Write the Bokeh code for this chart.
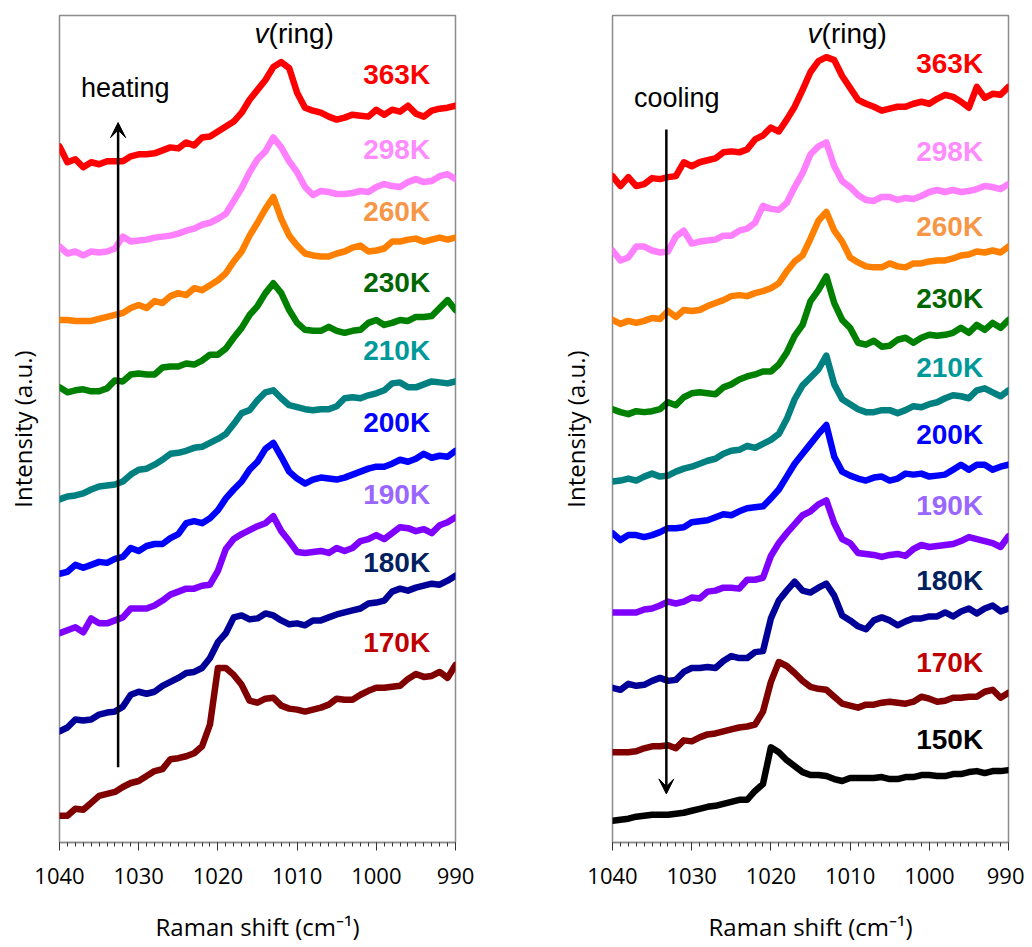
from bokeh.plotting import figure
from bokeh.layouts import row
from bokeh.models import Range1d, SingleIntervalTicker, FixedTicker, Arrow, VeeHead
from bokeh.core.properties import value
from bokeh.embed import file_html
from bokeh.resources import INLINE

# Raman shift grid (cm^-1)
shift = [1040, 1039, 1038, 1037, 1036, 1035, 1034, 1033, 1032, 1031,
         1030, 1029, 1028, 1027, 1026, 1025, 1024, 1023, 1022, 1021,
         1020, 1019, 1018, 1017, 1016, 1015, 1014, 1013, 1012, 1011,
         1010, 1009, 1008, 1007, 1006, 1005, 1004, 1003, 1002, 1001,
         1000, 999, 998, 997, 996, 995, 994, 993, 992, 991, 990]

# ---------------- heating (offset intensities, a.u.) ----------------
heat_labels = ["363K", "298K", "260K", "230K", "210K", "200K", "190K", "180K", "170K"]
heat_363 = [703,687,690,682,687,685,688,688,688,693,695,695,696,699,702,701,707,704,712,713,718,723,728,737,750,760,770,783,788,782,757,742,739,737,733,730,732,735,734,733,740,735,740,738,744,736,733,739,741,742,744]
heat_298 = [602,595,597,593,597,596,597,600,612,607,608,609,611,612,613,615,618,620,624,626,630,635,648,661,677,690,698,712,702,688,677,662,654,658,657,655,655,656,658,657,662,665,663,662,667,670,667,668,673,675,670]
heat_260 = [528,528,527,527,527,529,531,533,535,540,543,540,547,545,552,555,553,560,558,563,568,575,587,597,613,626,640,652,630,613,603,595,593,592,592,595,597,601,603,597,598,600,607,607,609,610,607,609,611,609,611]
heat_230 = [460,455,457,458,456,456,459,467,466,473,474,473,473,480,481,481,484,483,487,493,493,499,510,520,533,542,555,565,555,538,525,518,517,517,521,517,515,517,518,525,528,523,525,528,527,531,531,532,540,548,538]
heat_210 = [347,350,351,353,357,360,361,362,365,372,377,378,382,387,393,394,396,399,400,404,408,413,423,434,437,447,455,457,449,442,440,438,437,438,438,441,449,450,449,452,454,457,464,465,460,460,463,466,465,464,466]
heat_200 = [272,274,281,278,281,284,283,287,289,298,295,300,302,302,308,312,323,325,323,328,336,348,357,365,377,385,398,404,390,375,368,363,367,369,368,367,369,372,375,378,380,380,383,387,385,388,393,389,391,390,396]
heat_190 = [212,215,218,213,227,222,222,225,228,237,237,237,240,245,251,254,257,257,260,261,275,297,307,312,316,320,323,330,315,305,294,293,294,295,293,298,295,298,305,307,311,307,313,319,318,315,317,313,321,324,329]
heat_180 = [113,117,125,124,125,130,132,133,138,150,153,151,153,159,163,167,172,173,177,187,203,212,228,230,226,227,232,230,225,221,222,220,225,225,228,231,233,235,237,242,243,245,254,257,255,258,260,262,261,265,270]
heat_170 = [28,28,35,34,41,48,50,52,57,61,63,68,73,75,85,86,88,91,98,120,177,177,170,160,144,142,146,147,139,136,135,133,135,137,140,146,145,145,150,154,157,157,158,159,166,171,168,169,173,167,180]
heat_label_y = [775, 700, 637, 566, 497, 425, 352, 283, 203]

# ---------------- cooling ----------------
cool_labels = ["363K", "298K", "260K", "230K", "210K", "200K", "190K", "180K", "170K", "150K"]
cool_363 = [673,663,672,663,665,671,670,672,673,687,683,687,689,691,697,698,697,700,710,714,722,718,730,743,760,778,789,793,790,774,762,750,746,743,739,741,743,743,746,748,746,751,755,753,748,742,763,752,756,755,763]
cool_298 = [598,588,591,602,602,598,596,597,612,618,605,607,608,609,613,613,618,620,626,643,640,639,646,662,676,695,703,707,683,668,662,654,649,648,652,652,649,651,650,653,657,659,657,659,657,658,660,663,662,660,665]
cool_260 = [528,524,527,525,527,530,529,537,531,538,537,538,542,545,548,552,553,552,555,557,560,565,577,587,593,610,628,637,618,607,591,586,582,581,581,585,582,581,585,585,587,588,588,590,593,594,597,596,598,596,602]
cool_230 = [438,435,433,436,435,436,438,445,442,450,454,455,454,453,460,463,468,471,473,476,476,483,495,512,523,547,558,572,545,528,520,505,503,507,501,502,508,510,505,510,513,512,513,515,520,515,523,518,525,520,528]
cool_210 = [365,366,368,366,370,373,370,371,375,378,380,383,386,388,393,396,397,401,399,403,407,413,428,448,462,470,478,492,463,448,443,438,435,435,437,437,434,437,441,440,443,445,449,452,451,449,457,459,455,451,457]
cool_200 = [313,306,311,311,309,311,314,318,318,319,324,325,326,329,332,331,335,338,339,340,348,357,370,383,393,403,413,422,390,375,371,368,366,369,370,366,368,373,372,373,370,371,372,377,382,377,382,382,377,380,382]
cool_190 = [233,233,233,233,236,237,240,244,242,244,248,247,254,255,258,258,257,266,266,268,290,303,313,322,331,335,342,346,323,307,303,293,292,291,289,291,292,290,297,301,299,300,301,302,305,309,307,305,303,299,310]
cool_180 = [157,155,161,159,160,164,167,164,165,173,177,177,178,177,184,189,187,187,193,194,227,245,255,264,255,253,258,262,250,230,225,219,216,225,228,225,220,224,227,227,229,229,233,229,234,237,232,237,240,234,237]
cool_170 = [92,92,92,93,96,98,98,99,96,104,103,107,110,111,113,115,117,118,120,133,163,183,179,172,164,158,156,155,148,141,139,137,140,140,142,143,142,141,143,148,146,143,144,147,147,148,148,153,155,147,152]
cool_150 = [23,24,25,27,28,29,29,29,30,31,33,35,37,38,40,42,44,44,53,60,97,92,84,78,72,69,69,68,65,63,66,66,66,66,67,65,65,67,67,69,69,68,68,70,70,72,73,71,73,73,74]
cool_label_y = [787, 698, 622, 550, 480, 412, 341, 265, 183, 105]

# colours
line_colors = {"363K": "#FF0000", "298K": "#FF80FF", "260K": "#FF8000", "230K": "#008000",
               "210K": "#008080", "200K": "#0000FF", "190K": "#8000FF", "180K": "#000099",
               "170K": "#800000", "150K": "#000000"}
label_colors = {"363K": "#FF0000", "298K": "#FF8CFF", "260K": "#F79646", "230K": "#006600",
                "210K": "#009999", "200K": "#0000FF", "190K": "#9966FF", "180K": "#002060",
                "170K": "#C00000", "150K": "#000000"}

label_x = 993.2
ring_x = 1013.6
ring_y = 817
arrow_x = [1032.6, 1033.2]
heat_arrow = [77, 727]
cool_arrow = [720, 50]
note_x = 1037.3
note_y = [762, 752]

TICK_FONT = "Open Sans"
ANN_FONT = "Liberation Sans"


def make_fig(series, labels, label_y, width, bl, br, note, arrow_xv, arrow_y):
    p = figure(width=width, height=945, output_backend="svg", toolbar_location=None,
               x_range=Range1d(1040, 990), y_range=Range1d(1, 835),
               min_border_left=bl, min_border_right=br, min_border_top=15, min_border_bottom=96)
    p.xgrid.visible = False
    p.ygrid.visible = False
    p.outline_line_color = "#8c8c8c"
    p.outline_line_width = 1.5
    p.background_fill_color = "white"
    p.border_fill_color = "white"

    xa = p.xaxis[0]
    xa.ticker = SingleIntervalTicker(interval=10, num_minor_ticks=10)
    xa.major_tick_out = 8
    xa.major_tick_in = 0
    xa.minor_tick_out = 4
    xa.minor_tick_in = 0
    xa.axis_line_color = "#8c8c8c"
    xa.axis_line_width = 1.5
    xa.major_tick_line_color = "#333333"
    xa.minor_tick_line_color = "#333333"
    xa.major_label_text_font = TICK_FONT
    xa.major_label_text_font_size = "22px"
    xa.major_label_text_color = "black"
    xa.major_label_standoff = 17
    xa.axis_label = "Raman shift (cm\u207b\u00b9)"
    xa.axis_label_text_font = TICK_FONT
    xa.axis_label_text_font_size = "24px"
    xa.axis_label_text_font_style = "normal"
    xa.axis_label_text_color = "black"
    xa.axis_label_standoff = 23

    ya = p.yaxis[0]
    ya.ticker = FixedTicker(ticks=[])
    ya.major_tick_line_color = None
    ya.minor_tick_line_color = None
    ya.axis_line_color = None
    ya.axis_label = "Intensity (a.u.)"
    ya.axis_label_text_font = TICK_FONT
    ya.axis_label_text_font_size = "24px"
    ya.axis_label_text_font_style = "normal"
    ya.axis_label_text_color = "black"
    ya.axis_label_standoff = 21

    for lab, ys in zip(labels, series):
        p.line(shift, ys, line_color=line_colors[lab], line_width=6.5,
               line_join="round", line_cap="round")

    p.text(x=[label_x] * len(labels), y=label_y, text=labels,
           text_color=[label_colors[l] for l in labels],
           text_align="right", text_baseline="middle",
           text_font=value(ANN_FONT), text_font_style="bold", text_font_size="28px")

    p.text(x=[ring_x], y=[ring_y], text=["v"], text_align="right", text_baseline="middle",
           text_font=value(ANN_FONT), text_font_style="italic", text_font_size="28px",
           text_color="black")
    p.text(x=[ring_x], y=[ring_y], text=["(ring)"], text_align="left", text_baseline="middle",
           text_font=value(ANN_FONT), text_font_size="28px", text_color="black")

    p.text(x=[note_x], y=[note[1]], text=[note[0]], text_align="left", text_baseline="middle",
           text_font=value(ANN_FONT), text_font_size="27px", text_color="black")

    p.add_layout(Arrow(end=VeeHead(size=15, fill_color="black", line_color="black", line_width=1),
                       x_start=arrow_xv, y_start=arrow_y[0], x_end=arrow_xv, y_end=arrow_y[1],
                       line_color="black", line_width=2.5))
    return p


heat_series = [heat_363, heat_298, heat_260, heat_230, heat_210, heat_200, heat_190, heat_180, heat_170]
cool_series = [cool_363, cool_298, cool_260, cool_230, cool_210, cool_200, cool_190, cool_180, cool_170, cool_150]

p1 = make_fig(heat_series, heat_labels, heat_label_y, 532, 59, 77, ("heating", note_y[0]), arrow_x[0], heat_arrow)
p2 = make_fig(cool_series, cool_labels, cool_label_y, 492, 80, 16, ("cooling", note_y[1]), arrow_x[1], cool_arrow)

layout = row(p1, p2, spacing=0)
open("out.html", "w").write(file_html(layout, INLINE))
